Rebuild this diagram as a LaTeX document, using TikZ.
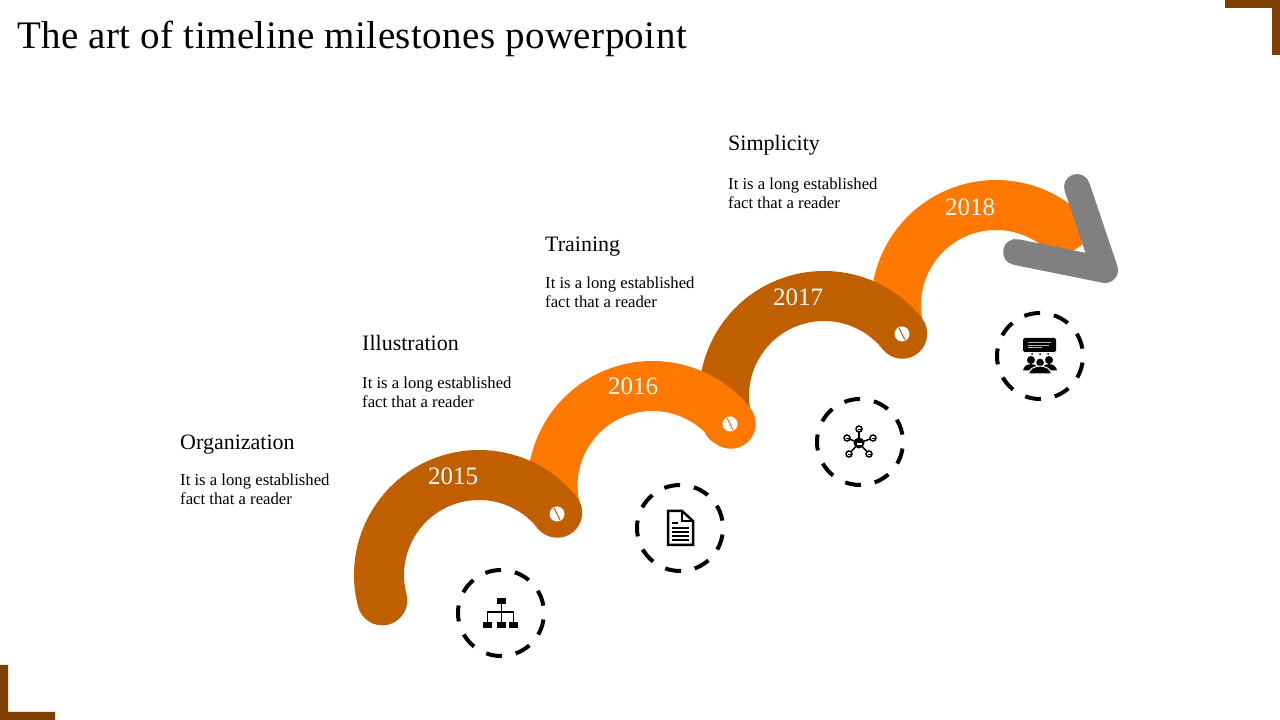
\documentclass[tikz,border=0pt]{standalone}
\usepackage{fontspec}
\usetikzlibrary{calc}
\setmainfont{Liberation Serif}
\definecolor{bandbrown}{HTML}{C05F00}
\definecolor{bandorange}{HTML}{FF7900}
\definecolor{cornerbrown}{HTML}{7F3F00}
\definecolor{headgray}{HTML}{808080}
\tikzset{
  band/.style={line width=50pt,line cap=round},
  ring/.style={line width=4pt,dash pattern=on 16pt off 14pt},
  pin/.style={circle,fill=white,inner sep=0pt,minimum size=15pt},
  yearlabel/.style={text=white,font=\fontsize{25}{28}\selectfont},
  headlabel/.style={anchor=base west,inner sep=0pt,font=\fontsize{22}{24}\selectfont},
  bodylabel/.style={anchor=north west,inner sep=0pt,align=left,font=\fontsize{16.7}{19}\selectfont},
  net/.style={line width=1.5pt},
}
\begin{document}
\begin{tikzpicture}[x=1pt,y=1pt]
\useasboundingbox (0,0) rectangle (1280,720);

% corners
\fill [cornerbrown] (1225,720) -- (1280,720) -- (1280,665) -- (1272,665) -- (1272,712) -- (1225,712) -- cycle;
\fill [cornerbrown] (0,55) -- (8,55) -- (8,8) -- (55,8) -- (55,0) -- (0,0) -- cycle;

\node [anchor=base west,inner sep=0pt,font=\fontsize{39}{42}\selectfont\addfontfeature{LetterSpace=1.05}] (title) at (17,671.5) {The art of timeline milestones powerpoint};

% bands, last one first
\coordinate (c18) at (996,415);
\coordinate (c17) at (824,324);
\coordinate (c16) at (652.5,234);
\coordinate (c15) at (479,145);
\draw [band,bandorange,line cap=butt] ([shift=(194.7:100)]c18) arc[start angle=194.7,end angle=35,radius=100];
\draw [line width=26pt,line cap=round,line join=round,headgray] (1077,533) -- (1105,450) -- (1016,468);
\draw [band,bandbrown] ([shift=(194.7:100)]c17) arc[start angle=194.7,end angle=38.5,radius=100];
\draw [band,bandorange] ([shift=(194.7:100)]c16) arc[start angle=194.7,end angle=38.5,radius=100];
\draw [band,bandbrown] ([shift=(194.7:100)]c15) arc[start angle=194.7,end angle=38.5,radius=100];

% pins
\node [pin] (p15) at (557,206) {};
\node [pin] (p16) at (730,296) {};
\node [pin] (p17) at (902,386) {};
\draw [bandbrown,line width=1pt] ($(p15)+(-3,6)$) -- ($(p15)+(3,-6)$);
\draw [bandorange,line width=1pt] ($(p16)+(-3,6)$) -- ($(p16)+(3,-6)$);
\draw [bandbrown,line width=1pt] ($(p17)+(-3,6)$) -- ($(p17)+(3,-6)$);

% years
\node [yearlabel] (y15) at (453,244) {2015};
\node [yearlabel] (y16) at (633,334) {2016};
\node [yearlabel] (y17) at (798,423) {2017};
\node [yearlabel] (y18) at (970,513) {2018};

% texts
\node [headlabel] (h15) at (180,270) {Organization};
\node [bodylabel] (b15) at (180,246) {It is a long established\\fact that a reader};
\node [headlabel] (h16) at (362,369) {Illustration};
\node [bodylabel] (b16) at (362,343.5) {It is a long established\\fact that a reader};
\node [headlabel] (h17) at (545,468) {Training};
\node [bodylabel] (b17) at (545,443.5) {It is a long established\\fact that a reader};
\node [headlabel] (h18) at (728,569) {Simplicity};
\node [bodylabel] (b18) at (728,542.5) {It is a long established\\fact that a reader};

% rings
\draw [ring,rotate around={90:(501,107)}] (501,107) circle (43);
\draw [ring,rotate around={90:(680,192)}] (680,192) circle (43);
\draw [ring,rotate around={90:(860,278)}] (860,278) circle (43);
\draw [ring,rotate around={90:(1040,364)}] (1040,364) circle (43);

% hierarchy icon
\fill (497,116) rectangle (506,122);
\fill (483,92) rectangle (492,98);
\fill (497,92) rectangle (506,98);
\fill (509,92) rectangle (518,98);
\draw [line width=1.2pt] (501.5,116) -- (501.5,98);
\draw [line width=1.2pt] (487.5,98) -- (487.5,108) -- (513.5,108) -- (513.5,98);

% document icon
\draw [line width=2.5pt,line join=miter] (668,209) -- (682,209) -- (693,199) -- (693,175) -- (668,175) -- cycle;
\draw [line width=2pt] (682,209) -- (682,199) -- (693,199);
\draw [line width=1.7pt] (672,197) -- (678,197);
\draw [line width=1.7pt] (672,192) -- (689,192);
\draw [line width=1.7pt] (672,188) -- (689,188);
\draw [line width=1.7pt] (672,184) -- (689,184);
\draw [line width=1.7pt] (672,180) -- (689,180);

% network icon
\fill (859,277) circle (5.5);
\draw [net] (859,277) -- (859,291);
\draw [net] (859,277) -- (873,282);
\draw [net] (859,277) -- (869,266);
\draw [net] (859,277) -- (849,266);
\draw [net] (859,277) -- (847,282);
\draw [net,fill=white] (859,291) circle (3);
\draw [net,fill=white] (873,282) circle (3);
\draw [net,fill=white] (869,266) circle (3);
\draw [net,fill=white] (849,266) circle (3);
\draw [net,fill=white] (847,282) circle (3);
\fill (857.5,289.5) rectangle (860.5,291);
\fill (871.5,280.5) rectangle (874.5,282);
\fill (867.5,264.5) rectangle (870.5,266);
\fill (847.5,264.5) rectangle (850.5,266);
\fill (845.5,280.5) rectangle (848.5,282);
\fill [white] (856.5,275) rectangle (861.5,277);

% meeting icon
\fill [rounded corners=1.5pt] (1023,368) rectangle (1056,382);
\draw [white!70!black,line width=0.9pt] (1028,377.5) -- (1051,377.5);
\draw [white!70!black,line width=0.9pt] (1028,375) -- (1049,375);
\draw [white!70!black,line width=0.9pt] (1028,372.5) -- (1042,372.5);
\fill (1032,366) circle (1);
\fill (1040,366) circle (1);
\fill (1048,366) circle (1);
\fill (1031,360) circle (4);
\fill (1049,360) circle (4);
\fill (1023,349.5) .. controls (1024,358) and (1038,358) .. (1039,349.5) -- cycle;
\fill (1041,349.5) .. controls (1042,358) and (1056,358) .. (1057,349.5) -- cycle;
\draw [white,line width=1pt,fill=black] (1040,357.5) circle (4.5);
\draw [white,line width=1pt,fill=black] (1028.5,346) .. controls (1029.5,356.5) and (1050.5,356.5) .. (1051.5,346) -- cycle;
\end{tikzpicture}
\end{document}
